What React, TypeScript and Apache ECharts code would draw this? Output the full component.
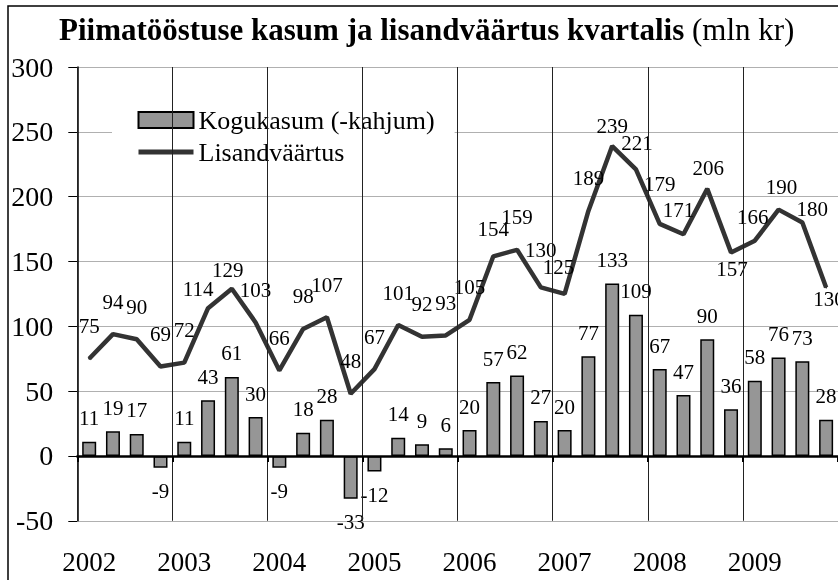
import React, { useEffect, useRef } from "react";
import * as echarts from "echarts";

const categories = [
  "2002 I", "2002 II", "2002 III", "2002 IV",
  "2003 I", "2003 II", "2003 III", "2003 IV",
  "2004 I", "2004 II", "2004 III", "2004 IV",
  "2005 I", "2005 II", "2005 III", "2005 IV",
  "2006 I", "2006 II", "2006 III", "2006 IV",
  "2007 I", "2007 II", "2007 III", "2007 IV",
  "2008 I", "2008 II", "2008 III", "2008 IV",
  "2009 I", "2009 II", "2009 III", "2009 IV",
];

const kogukasum = [
  11, 19, 17, -9, 11, 43, 61, 30, -9, 18, 28, -33, -12, 14, 9, 6,
  20, 57, 62, 27, 20, 77, 133, 109, 67, 47, 90, 36, 58, 76, 73, 28,
];

const lisandvaartus = [
  75, 94, 90, 69, 72, 114, 129, 103, 66, 98, 107, 48, 67, 101, 92, 93,
  105, 154, 159, 130, 125, 189, 239, 221, 179, 171, 206, 157, 166, 190, 180, 130,
];

const seriesNames = ["Kogukasum (-kahjum)", "Lisandväärtus"];
const titleBold = "Piimatööstuse kasum ja lisandväärtus kvartalis";
const titleNormal = "(mln kr)";

const FONT = "Liberation Serif";

// label placement tweaks (pixel offsets), by point index
const lineLabelOffsets: Record<number, [number, number]> = {
  5: [-10, 13],
  6: [-4, 14],
  17: [0, 5],
  19: [0, -5],
  20: [-6, 6],
  22: [0, 12],
  23: [1, 6],
  24: [0, -7],
  25: [-5, 8],
  26: [1, 12],
  27: [1, 49],
  28: [-2, 9],
  29: [3, 10],
  30: [10, 19],
  31: [3, 44],
};

export default function App() {
  const ref = useRef<HTMLDivElement>(null);

  useEffect(() => {
    if (!ref.current) return;
    const host = ref.current;
    const chart = echarts.init(host, undefined, { renderer: "svg" });

    const forceFont = () => {
      host.querySelectorAll("text").forEach((t) => {
        const el = t as SVGTextElement;
        if (!/Liberation Serif/.test(getComputedStyle(el).fontFamily)) {
          el.style.fontFamily = FONT;
        }
      });
    };
    chart.on("finished", forceFont);

    const barData = kogukasum.map((v) => ({
      value: v,
      label: { position: v < 0 ? "bottom" : "top" },
    }));
    const lineData = lisandvaartus.map((v, i) => ({
      value: v,
      label: lineLabelOffsets[i] ? { offset: lineLabelOffsets[i] } : {},
    }));

    chart.setOption({
      animation: false,
      title: [
        {
          text: titleBold,
          left: 59,
          top: 14,
          padding: 0,
          textStyle: { fontFamily: FONT, fontSize: 31, fontWeight: "bold", color: "#000" },
        },
        {
          text: titleNormal,
          left: 692,
          top: 14,
          padding: 0,
          textStyle: { fontFamily: FONT, fontSize: 31, fontWeight: "normal", color: "#000" },
        },
      ],
      graphic: [
        {
          type: "rect",
          shape: { x: 8, y: 6, width: 1200, height: 1200 },
          style: { fill: "none", stroke: "#000", lineWidth: 1.5 },
          silent: true,
          z: 100,
        },
      ],
      legend: {
        orient: "vertical",
        left: 112,
        top: 99,
        padding: [8, 20, 7, 24],
        backgroundColor: "#fff",
        itemWidth: 55,
        itemHeight: 16,
        itemGap: 6,
        textStyle: { fontFamily: FONT, fontSize: 26, color: "#000" },
        data: [
          { name: seriesNames[0], icon: "rect" },
          {
            name: seriesNames[1],
            itemStyle: { opacity: 0 },
            lineStyle: { width: 5, color: "#333" },
          },
        ],
      },
      grid: { left: 77.3, top: 67, width: 764.6, height: 453.8 },
      xAxis: [
        {
          type: "category",
          data: categories,
          position: "bottom",
          boundaryGap: true,
          axisLine: { show: true, onZero: true, lineStyle: { color: "#000", width: 2.5 } },
          axisTick: { show: true, interval: 3, length: 6, lineStyle: { color: "#000", width: 2 } },
          axisLabel: { show: false },
          splitLine: { show: true, interval: 3, lineStyle: { color: "#222", width: 1 } },
          z: 5,
        },
        {
          type: "category",
          data: categories,
          position: "bottom",
          boundaryGap: true,
          axisLine: { show: false, onZero: false },
          axisTick: { show: false },
          splitLine: { show: false },
          axisLabel: {
            show: true,
            interval: 3,
            margin: 28,
            fontFamily: FONT,
            fontSize: 27,
            color: "#000",
            formatter: (v: string) => v.split(" ")[0],
          },
        },
      ],
      yAxis: {
        type: "value",
        min: -50,
        max: 300,
        interval: 50,
        axisLine: { show: true, lineStyle: { color: "#000", width: 1.5 } },
        axisTick: { show: true, length: 9, lineStyle: { color: "#000", width: 1 } },
        splitLine: { show: true, lineStyle: { color: "#b0b0b0", width: 1 } },
        axisLabel: { margin: 24, fontFamily: FONT, fontSize: 28, color: "#000" },
      },
      series: [
        {
          name: seriesNames[0],
          type: "bar",
          xAxisIndex: 0,
          data: barData,
          barWidth: 14,
          itemStyle: { color: "#969696", borderColor: "#000", borderWidth: 1.5 },
          label: {
            show: true,
            distance: 13,
            fontFamily: FONT,
            fontSize: 21,
            color: "#000",
          },
          z: 3,
        },
        {
          name: seriesNames[1],
          type: "line",
          xAxisIndex: 0,
          data: lineData,
          symbol: "circle",
          symbolSize: 2,
          showSymbol: true,
          itemStyle: { color: "#333" },
          lineStyle: { color: "#333", width: 4.5 },
          label: {
            show: true,
            position: "top",
            distance: 21,
            fontFamily: FONT,
            fontSize: 21,
            color: "#000",
          },
          z: 4,
        },
      ],
    });
    forceFont();
    const timer = window.setTimeout(forceFont, 50);

    return () => {
      window.clearTimeout(timer);
      chart.dispose();
    };
  }, []);

  return (
    <div
      ref={ref}
      style={{ position: "fixed", left: 0, top: 0, width: 838, height: 580 }}
    />
  );
}
